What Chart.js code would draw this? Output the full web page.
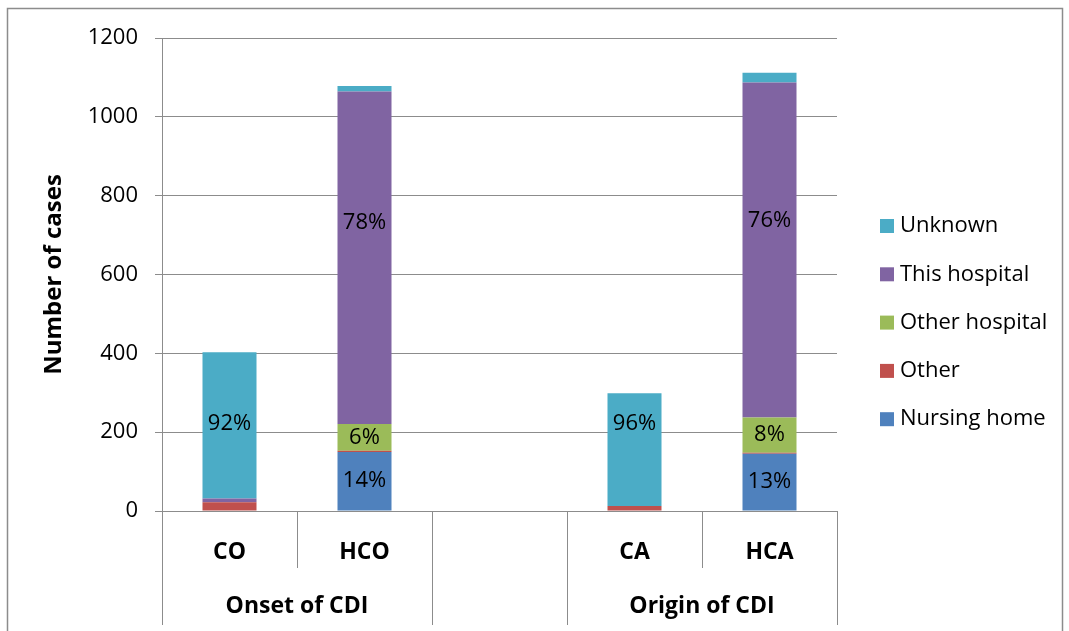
<!DOCTYPE html>
<html>
<head>
<meta charset="utf-8">
<script src="https://cdn.jsdelivr.net/npm/chart.js@4.4.1/dist/chart.umd.min.js"></script>
<style>
  html, body { margin: 0; padding: 0; background: #ffffff; }
  #wrap { width: 1069px; height: 631px; position: relative; }
</style>
</head>
<body>
<div id="wrap"><canvas id="c" width="1069" height="631"></canvas></div>
<script>
// Categories (the blank one separates the two groups)
const categories = ['CO', 'HCO', '', 'CA', 'HCA'];
const groupNames = ['Onset of CDI', 'Origin of CDI'];
const groupMembers = [[0, 1], [3, 4]];

// Number of cases by place of acquisition
const nursingHome   = [0,   150, null, 0,   145];
const other         = [22,  3,   null, 13,  3];
const otherHospital = [0,   68,  null, 0,   89];
const thisHospital  = [10,  843, null, 0,   850];
const unknown       = [371, 14,  null, 286, 25];

const yTicks = [0, 200, 400, 600, 800, 1000, 1200];

const FONT = "'Open Sans', sans-serif";
const GRID = '#8c8c8c';

const series = [
  { label: 'Nursing home',   data: nursingHome,   color: '#4F81BD' },
  { label: 'Other',          data: other,         color: '#C0504D' },
  { label: 'Other hospital', data: otherHospital, color: '#9BBB59' },
  { label: 'This hospital',  data: thisHospital,  color: '#8064A2' },
  { label: 'Unknown',        data: unknown,       color: '#4BACC6' }
];

// Labels dragged up inside the tall segments (pixels, keyed "dataset:category")
const labelNudge = { '4:0': -2, '3:1': -35, '4:3': -26, '3:4': -29 };

// Outer frame of the chart
const framePlugin = {
  id: 'frame',
  beforeDraw(chart) {
    const ctx = chart.ctx;
    ctx.save();
    ctx.fillStyle = '#ffffff';
    ctx.fillRect(0, 0, chart.width, chart.height);
    ctx.strokeStyle = '#8c8c8c';
    ctx.lineWidth = 1.5;
    ctx.strokeRect(7.5, 8.5, 1055, 700);
    ctx.restore();
  }
};

// Percentage of each bar's total, written inside the larger segments
const pctPlugin = {
  id: 'pct',
  afterDatasetsDraw(chart) {
    const ctx = chart.ctx;
    const ds = chart.data.datasets;
    ctx.save();
    ctx.font = '22px ' + FONT;
    ctx.fillStyle = '#000000';
    ctx.textAlign = 'center';
    ctx.textBaseline = 'middle';
    ds.forEach((d, i) => {
      const meta = chart.getDatasetMeta(i);
      d.data.forEach((v, j) => {
        if (v == null || v < 50) return;
        const total = ds.reduce((s, e) => s + (e.data[j] || 0), 0);
        const bar = meta.data[j];
        const pct = Math.round(v / total * 100);
        const dy = labelNudge[i + ':' + j] || 0;
        ctx.fillText(pct + '%', bar.x, (bar.y + bar.base) / 2 + dy);
      });
    });
    ctx.restore();
  }
};

// Two-level category axis: dividers and group names
const groupAxisPlugin = {
  id: 'groupAxis',
  afterDraw(chart) {
    const ctx = chart.ctx;
    const x = chart.scales.x;
    const area = chart.chartArea;
    const half = (x.getPixelForValue(1) - x.getPixelForValue(0)) / 2;
    const n = categories.length;
    const isGroupEdge = new Array(n + 1).fill(false);
    groupMembers.forEach(m => { isGroupEdge[m[0]] = true; isGroupEdge[m[m.length - 1] + 1] = true; });
    ctx.save();
    ctx.strokeStyle = GRID;
    ctx.lineWidth = 1;
    for (let k = 0; k <= n; k++) {
      const px = Math.round(x.getPixelForValue(k) - half) + 0.5;
      const y2 = isGroupEdge[k] ? area.bottom + 114 : area.bottom + 57;
      ctx.beginPath();
      ctx.moveTo(px, area.bottom);
      ctx.lineTo(px, y2);
      ctx.stroke();
    }
    ctx.font = 'bold 23px ' + FONT;
    ctx.fillStyle = '#000000';
    ctx.textAlign = 'center';
    ctx.textBaseline = 'middle';
    groupNames.forEach((g, i) => {
      const m = groupMembers[i];
      const cx = (x.getPixelForValue(m[0]) + x.getPixelForValue(m[m.length - 1])) / 2;
      ctx.fillText(g, cx, area.bottom + 95);
    });
    ctx.restore();
  }
};

// Legend listed top to bottom in stacking order reversed
const legendPlugin = {
  id: 'sideLegend',
  afterDraw(chart) {
    const ctx = chart.ctx;
    const ds = chart.data.datasets.slice().reverse();
    ctx.save();
    ctx.font = '22px ' + FONT;
    ctx.textAlign = 'left';
    ctx.textBaseline = 'middle';
    ds.forEach((d, i) => {
      const y = 226 + i * 48.3;
      ctx.fillStyle = d.backgroundColor;
      ctx.fillRect(880, y - 7, 14, 14);
      ctx.fillStyle = '#000000';
      ctx.fillText(d.label, 900, y);
    });
    ctx.restore();
  }
};

new Chart(document.getElementById('c'), {
  type: 'bar',
  data: {
    labels: categories,
    datasets: series.map(s => ({
      label: s.label,
      data: s.data,
      backgroundColor: s.color,
      borderWidth: 0,
      barPercentage: 0.4,
      categoryPercentage: 1.0
    }))
  },
  options: {
    responsive: false,
    animation: false,
    devicePixelRatio: 1,
    layout: { padding: { left: 0, top: 38, right: 232, bottom: 0 } },
    plugins: {
      legend: { display: false },
      tooltip: { enabled: false }
    },
    scales: {
      x: {
        stacked: true,
        grid: { display: false },
        border: { display: false },
        ticks: {
          color: '#000000',
          font: { family: FONT, size: 23, weight: 'bold' },
          padding: 20,
          maxRotation: 0,
          autoSkip: false
        },
        afterFit(scale) { scale.height = 120; }
      },
      y: {
        stacked: true,
        min: yTicks[0],
        max: yTicks[yTicks.length - 1],
        afterBuildTicks(scale) { scale.ticks = yTicks.map(v => ({ value: v })); },
        grid: { color: GRID, tickLength: 7, lineWidth: 1 },
        border: { display: true, color: GRID },
        ticks: {
          color: '#000000',
          font: { family: FONT, size: 22 },
          padding: 17,
          callback: v => String(v)
        },
        title: {
          display: true,
          text: 'Number of cases',
          color: '#000000',
          font: { family: FONT, size: 24, weight: 'bold' },
          padding: { top: 40, bottom: 0 }
        },
        afterFit(scale) { scale.width = 162; }
      }
    }
  },
  plugins: [framePlugin, pctPlugin, groupAxisPlugin, legendPlugin]
});
</script>
</body>
</html>
